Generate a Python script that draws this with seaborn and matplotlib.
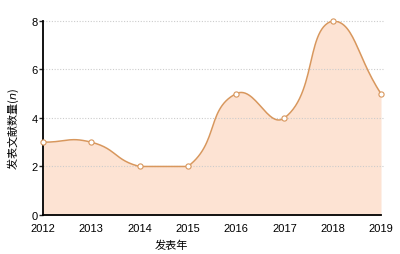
import matplotlib
matplotlib.use("Agg")
import matplotlib.pyplot as plt
import numpy as np
import pandas as pd
import seaborn as sns

years = [2012, 2013, 2014, 2015, 2016, 2017, 2018, 2019]
counts = [3, 3, 2, 2, 5, 4, 8, 5]
y_ticks = [0, 2, 4, 6, 8]

LINE = "#d8975d"
FILL = "#fde3d3"


def smooth_curve(xs, ys, smooth=0.5, sx=48.0, sy=24.0, n=30):
    # bezier smoothing with control points clamped to the data box
    px = np.asarray(xs, float) * sx
    py = np.asarray(ys, float) * sy
    lo = np.array([px.min(), py.min()])
    hi = np.array([px.max(), py.max()])
    pts = np.column_stack([px, py])
    cps = []
    for i in range(len(pts)):
        prev = pts[i - 1] if i > 0 else pts[i]
        nxt = pts[i + 1] if i < len(pts) - 1 else pts[i]
        v = (nxt - prev) * smooth
        d0 = np.linalg.norm(pts[i] - prev)
        d1 = np.linalg.norm(nxt - pts[i])
        s = d0 + d1
        r0, r1 = (d0 / s, d1 / s) if s > 0 else (0, 0)
        c0 = np.clip(pts[i] - v * r0, lo, hi)
        c1 = np.clip(pts[i] + v * r1, lo, hi)
        cps.append((c0, c1))
    out = [pts[0]]
    t = np.linspace(0, 1, n)[1:, None]
    for i in range(len(pts) - 1):
        p0, p3 = pts[i], pts[i + 1]
        p1, p2 = cps[i][1], cps[i + 1][0]
        seg = ((1 - t) ** 3) * p0 + 3 * ((1 - t) ** 2) * t * p1 + 3 * (1 - t) * t ** 2 * p2 + t ** 3 * p3
        out.extend(seg)
    out = np.array(out)
    return out[:, 0] / sx, out[:, 1] / sy


sns.set_style("white")
plt.rcParams["font.family"] = ["Liberation Sans", "Noto Sans CJK SC", "DejaVu Sans"]

fig = plt.figure(figsize=(4.0, 2.55), dpi=100)
ax = fig.add_axes([0.1075, 0.153, 0.845, 0.761])

cx, cy = smooth_curve(years, counts)
curve = pd.DataFrame({"year": cx, "count": cy})
ax.fill_between(cx, 0, cy, color=FILL, lw=0, zorder=1)
for v in y_ticks[1:]:
    ax.axhline(v, color="#cccccc", lw=0.8, ls=(0, (1, 1.5)), zorder=2, xmax=1.006, clip_on=False)
sns.lineplot(data=curve, x="year", y="count", color=LINE, lw=1.1, sort=False,
             estimator=None, ax=ax, zorder=3)
pts = pd.DataFrame({"year": years, "count": counts})
sns.scatterplot(data=pts, x="year", y="count", s=14, color="white", edgecolor=LINE,
                linewidth=0.8, ax=ax, zorder=4, clip_on=False)

ax.set_xlim(2012, 2019)
ax.set_ylim(0, 8)
ax.set_xticks(years)
ax.set_xticklabels([str(y) for y in years], fontsize=8)
ax.set_yticks(y_ticks)
ax.set_yticklabels([str(v) for v in y_ticks], fontsize=8)
ax.tick_params(axis="x", length=0, pad=6, labelcolor="black")
ax.tick_params(axis="y", length=3, width=1, pad=1, left=True, labelcolor="black")

for s in ["top", "right"]:
    ax.spines[s].set_visible(False)
ax.spines["left"].set_color("black")
ax.spines["left"].set_linewidth(1.3)
ax.spines["bottom"].set_color("black")
ax.spines["bottom"].set_linewidth(1.3)

ax.set_xlabel("发表年", fontsize=8, family=["Noto Sans CJK SC"], color="black")
ax.xaxis.set_label_coords(0.38, -0.125)
ax.set_ylabel("发表文献数量($\\it{n}$)", fontsize=8, family=["Noto Sans CJK SC", "DejaVu Sans"],
              color="black")
ax.yaxis.set_label_coords(-0.065, 0.45)

fig.savefig("out.png", dpi=100)
